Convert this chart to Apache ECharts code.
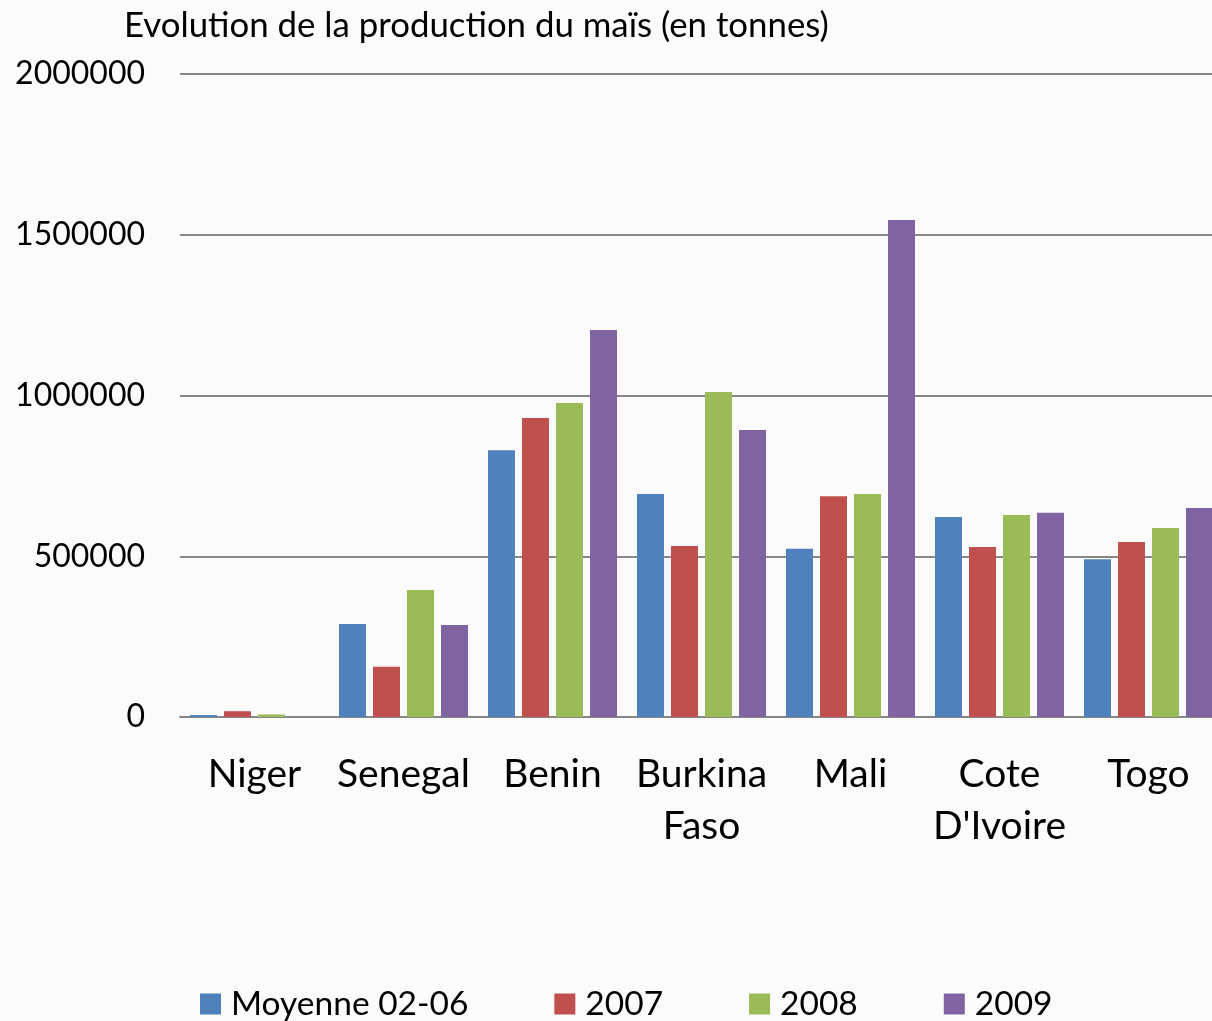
<!DOCTYPE html>
<html>
<head>
<meta charset="utf-8">
<script src="https://cdn.jsdelivr.net/npm/echarts@6/dist/echarts.min.js"></script>
<style>
    html, body { margin: 0; padding: 0; background: #fbfbfb; }
    #chart { width: 1212px; height: 1021px; }
</style>
</head>
<body>
<div id="chart"></div>
<script>
// donnees
var pays = ['Niger', 'Senegal', 'Benin', 'Burkina\nFaso', 'Mali', 'Cote\nD\'Ivoire', 'Togo'];
var moyenne = [6000, 289000, 830000, 694000, 523000, 622000, 491000];
var an2007 = [18000, 156000, 930000, 532000, 687000, 529000, 544000];
var an2008 = [8000, 395000, 977000, 1011000, 694000, 628000, 588000];
var an2009 = [0, 286000, 1204000, 893000, 1546000, 635000, 650000];

var chart = echarts.init(document.getElementById('chart'));
var font = 'Lato, "Open Sans", sans-serif';

var option = {
    backgroundColor: '#fbfbfb',
    color: ['#4f81bd', '#c0504d', '#9bbb59', '#8064a2'],
    title: {
        text: 'Evolution de la production du maïs (en tonnes)',
        left: 119,
        top: 3,
        textStyle: { color: '#000', fontSize: 34.8, fontWeight: 'normal', fontFamily: font }
    },
    legend: {
        bottom: -5,
        left: 195,
        itemWidth: 21,
        itemHeight: 21,
        itemGap: 86,
        icon: 'rect',
        textStyle: { color: '#000', fontSize: 33.5, fontFamily: font, padding: [0, 0, 0, 5] },
        data: ['Moyenne 02-06', '2007', '2008', '2009']
    },
    grid: {
        left: 180,
        width: 1043,
        top: 74,
        bottom: 304,
        outerBoundsMode: 'none',
        containLabel: false
    },
    xAxis: {
        type: 'category',
        data: pays,
        axisLine: { lineStyle: { color: '#868686', width: 2 } },
        axisTick: { show: false },
        axisLabel: {
            color: '#000', fontSize: 39, fontFamily: font,
            margin: 31, lineHeight: 52, interval: 0
        }
    },
    yAxis: {
        type: 'value',
        min: 0,
        max: 2000000,
        interval: 500000,
        axisLine: { show: false },
        axisTick: { show: false },
        axisLabel: {
            color: '#000', fontSize: 32, fontFamily: font, margin: 35,
            formatter: function (v) { return String(v); }
        },
        splitLine: { lineStyle: { color: '#878787', width: 2 } }
    },
    series: [
        { name: 'Moyenne 02-06', type: 'bar', data: moyenne, barGap: '26%', barCategoryGap: '13.4%' },
        { name: '2007', type: 'bar', data: an2007 },
        { name: '2008', type: 'bar', data: an2008 },
        { name: '2009', type: 'bar', data: an2009 }
    ]
};
chart.setOption(option);
</script>
</body>
</html>
